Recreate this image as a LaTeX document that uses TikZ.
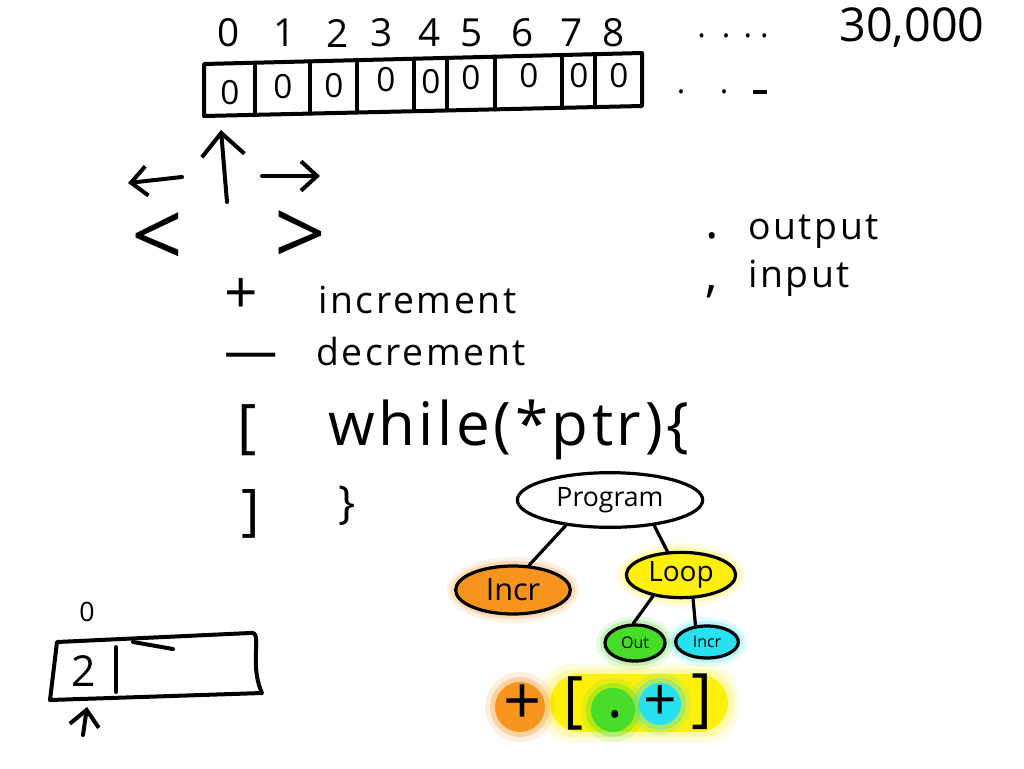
\documentclass[tikz,border=0pt]{standalone}
\usepackage{fontspec}
\setmainfont{Open Sans}
\usetikzlibrary{arrows.meta,shapes.geometric}
\definecolor{hlorange}{RGB}{247,148,30}
\definecolor{hlyellow}{RGB}{255,240,10}
\definecolor{hlgreen}{RGB}{70,220,40}
\definecolor{hlcyan}{RGB}{40,225,240}
\newcommand{\fs}[1]{\fontsize{#1}{#1}\selectfont}
\begin{document}
\begin{tikzpicture}[x=0.75pt,y=-0.75pt,line cap=round,line join=round,
  ink/.style={draw=black,line width=3pt},
  thin ink/.style={draw=black,line width=2.4pt},
  txt/.style={inner sep=0pt,text=black},
  idx/.style={txt,font=\fs{29}},
  cellv/.style={txt,font=\fs{25}},
  word/.style={txt,anchor=west,font=\fs{28}\addfontfeature{LetterSpace=7}},
  tnode/.style={ellipse,draw=black,line width=2.4pt,inner sep=0pt,text=black},
  barb/.style={-{Straight Barb[length=17pt,width=32pt,line width=3pt]}},
  sbarb/.style={-{Straight Barb[length=12pt,width=22pt,line width=3pt]}},
  glow/.style={fill=#1,fill opacity=0.22,draw=none}
]
\useasboundingbox (0,0) rectangle (1024,768);
\fill[white] (0,0) rectangle (1024,768);

% ---- index row ----
\foreach \i/\x in {0/229,1/285,2/338,3/382,4/430,5/472,6/523,7/572,8/614}
  \node[idx] (i\i) at (\x,33) {\i};
\node[txt,font=\fs{24}] (dots1) at (733,36) {.\hspace{12pt}.\hspace{10pt}.\hspace{6pt}.};
\node[txt,font=\fs{35}] (big) at (912,28) {30,000};

% ---- tape ----
\coordinate (tl) at (204,64);
\coordinate (tr) at (642,53);
\coordinate (br) at (642,106);
\coordinate (bl) at (204,116);
\draw[ink] (tl) -- (tr) -- (br) -- (bl) -- cycle;
\foreach \x in {255,310,357,414,447,495,562,595}
  \draw[ink] (\x,{64-11*(\x-204)/438}) -- (\x,{116-10*(\x-204)/438});
\foreach \i/\x/\y in {0/230/93,1/283/87,2/334/86,3/386/80,4/431/82,5/471/78,6/529/76,7/579/76,8/619/76}
  \node[cellv] (c\i) at (\x,\y) {0};
\node[txt,font=\fs{24}] (dots2) at (722,92) {.\hspace{26pt}.\hspace{18pt}\rule[0pt]{11pt}{2.4pt}};

% ---- pointer and moves ----
\coordinate (ptrfoot) at (227,202);
\coordinate (ptrtip) at (221,130);
\draw[ink,barb] (ptrfoot) -- (ptrtip);
\coordinate (la) at (182,177);
\coordinate (lb) at (128,183);
\draw[ink,sbarb] (la) -- (lb);
\coordinate (ra) at (262,176);
\coordinate (rb) at (320,176);
\draw[ink,sbarb] (ra) -- (rb);
\node[txt,font=\fs{68}] (lt) at (157,240) {<};
\node[txt,font=\fs{68}] (gt) at (300,238) {>};

% ---- commands ----
\node[txt,font=\fs{44}] (plus) at (241,296) {+};
\node[word] (inc) at (318,300) {increment};
\node[txt,font=\fs{40}] (minus) at (251,361) {—};
\node[word] (dec) at (316,351) {decrement};
\node[txt,font=\fs{44}] (lbr) at (247,430) {[};
\node[txt,anchor=west,font=\fs{45}\addfontfeature{LetterSpace=6}] (wh) at (328,430) {while(*ptr)\{};
\node[txt,font=\fs{42}] (rbr) at (251,514) {]};
\node[txt,font=\fs{34}] (rbrace) at (347,506) {\}};

\node[txt,font=\fs{38}] (dot) at (712,236) {.};
\node[word] (out) at (748,232) {output};
\node[txt,font=\fs{38}] (comma) at (712,292) {,};
\node[word] (inp) at (748,278) {input};

% ---- AST ----
\foreach \d/\o in {9/0.12,5/0.22}{
  \fill[glow=hlorange,fill opacity=\o] (513,590) ellipse ({57+\d} and {24+\d});
  \fill[glow=hlyellow,fill opacity=\o] (681,575) ellipse ({55+\d} and {23+\d});
  \fill[glow=hlgreen,fill opacity=\o] (635,643) ellipse ({30+\d} and {18+\d});
  \fill[glow=hlcyan,fill opacity=\o] (707,642) ellipse ({31+\d} and {16+\d});
}
\node[tnode,minimum width=139pt,minimum height=41pt,font=\fs{20}] (prog) at (610,500) {Program};
\node[tnode,fill=hlorange,minimum width=86pt,minimum height=36pt,font=\fs{23}] (incr) at (513,590) {Incr};
\node[tnode,fill=hlyellow,minimum width=82pt,minimum height=34pt,font=\fs{21}] (loop) at (681,575) {Loop};
\node[tnode,fill=hlgreen,minimum width=45pt,minimum height=27pt,font=\fs{12}] (outn) at (635,643) {Out};
\node[tnode,fill=hlcyan,minimum width=47pt,minimum height=24pt,font=\fs{12}] (incn) at (707,642) {Incr};
\draw[thin ink] (prog.210) -- (incr.57);
\draw[thin ink] (prog.330) -- (loop.120);
\draw[thin ink] (loop.217) -- (outn.95);
\draw[thin ink] (loop.297) -- (incn.125);

% ---- highlighted program ----
\foreach \d/\o in {10/0.12,5/0.25,0/1}{
  \fill[hlyellow,fill opacity=\o,rounded corners=22pt] (550-\d,674-\d) rectangle (728+\d,732+\d);
}
\foreach \d/\o in {10/0.15,5/0.3,0/1}{
  \fill[hlorange,fill opacity=\o] (520,707) circle ({25+\d});
  \fill[hlgreen,fill opacity=\o] (613,710) circle ({22+\d});
  \fill[hlcyan,fill opacity=\o] (660,704) circle ({21+\d});
}
\node[txt,font=\fs{50}] (p1) at (523,705) {+};
\node[txt,font=\fs{46}] (p2) at (574,703) {[};
\node[txt,font=\fs{44}] (p3) at (615,714) {.};
\node[txt,font=\fs{44}] (p4) at (660,703) {+};
\node[txt,font=\fs{48}] (p5) at (702,702) {]};

% ---- small tape ----
\node[txt,font=\fs{20}] (zero) at (87,612) {0};
\coordinate (stl) at (57,642);
\coordinate (str) at (250,633);
\coordinate (sbr) at (262,693);
\coordinate (sbl) at (50,700);
\draw[ink] (stl) -- (str) .. controls (264,630) and (248,662) .. (sbr) -- (sbl) -- cycle;
\draw[ink] (116,647) -- (116,692);
\draw[ink] (133,642) -- (173,649);
\node[txt,font=\fs{32}] (two) at (84,671) {2};
\coordinate (sptrfoot) at (83,735);
\coordinate (sptrtip) at (87,707);
\draw[ink,sbarb] (sptrfoot) -- (sptrtip);
\end{tikzpicture}
\end{document}
